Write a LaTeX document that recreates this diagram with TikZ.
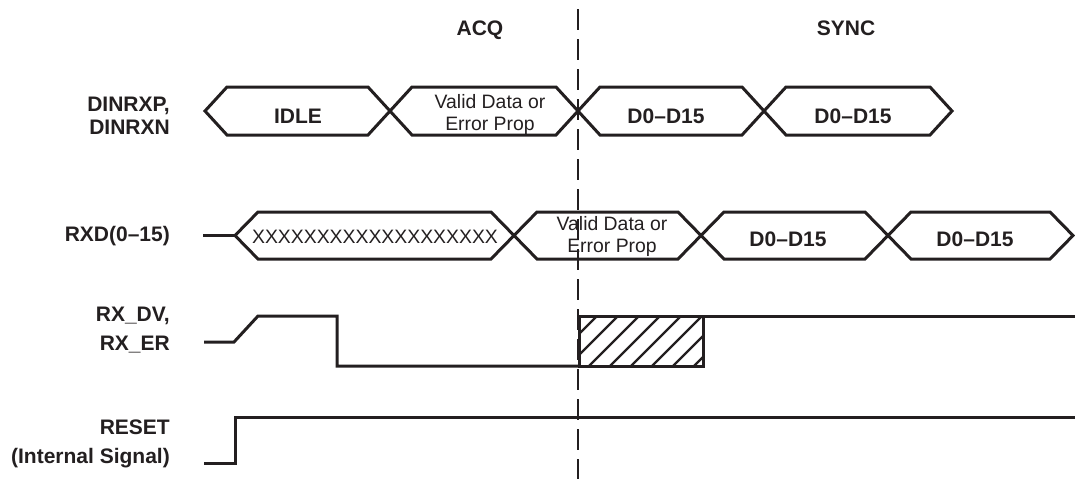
\documentclass[tikz,border=0pt]{standalone}
\usepackage{fontspec}
\setmainfont{Liberation Sans}
\definecolor{ink}{RGB}{35,31,32}
\newcommand\hexbus[5]{% a, b, mid, half-height, half-width
  \draw[sig] (#1,#3) -- ({#1+#5},{#3-#4}) -- ({#2-#5},{#3-#4}) -- (#2,#3)
    -- ({#2-#5},{#3+#4}) -- ({#1+#5},{#3+#4}) -- cycle;}
\begin{document}
\begin{tikzpicture}[x=1pt,y=-1pt,
  sig/.style={line width=3pt,draw=ink,line join=miter},
  hatchline/.style={line width=2.2pt,draw=ink},
  phase/.style={line width=1.1pt,draw=ink,dash pattern=on 21pt off 9pt},
  lbl/.style={font=\fontsize{21}{24}\selectfont\bfseries,text=ink,inner sep=0pt,anchor=base east},
  btxt/.style={font=\fontsize{21}{24}\selectfont\bfseries,text=ink,inner sep=0pt,anchor=base},
  rtxt/.style={font=\fontsize{19.4}{22}\selectfont,text=ink,inner sep=0pt,anchor=base}]
\useasboundingbox (0,0) rectangle (1075,479);

% phase labels and divider
\node[btxt] (acq) at (480,35.5) {ACQ};
\node[btxt] (sync) at (846,35.5) {SYNC};
\coordinate (divtop) at (578,9);
\coordinate (divbot) at (578,479);
\draw[phase] (divtop) -- (divbot);

% signal names
\node[lbl] (l1a) at (170,111.5) {DINRXP,};
\node[lbl] (l1b) at (170,134.5) {DINRXN};
\node[lbl] (l2) at (170,241.5) {RXD(0–15)};
\node[lbl] (l3a) at (170,321.5) {RX\_DV,};
\node[lbl] (l3b) at (170,350.5) {RX\_ER};
\node[lbl] (l4a) at (170,434.5) {RESET};
\node[lbl] (l4b) at (170,463.5) {(Internal Signal)};

% DINRXP / DINRXN bus
\hexbus{205}{390}{111}{24}{22}
\hexbus{390}{578}{111}{24}{22}
\hexbus{578}{764}{111}{24}{22}
\hexbus{764}{952}{111}{24}{22}
\node[btxt] (idle) at (298,123.5) {IDLE};
\node[rtxt] (v1a) at (490,108) {Valid Data or};
\node[rtxt] (v1b) at (490,130) {Error Prop};
\node[btxt] (d1a) at (666,123.5) {D0–D15};
\node[btxt] (d1b) at (853,123.5) {D0–D15};

% RXD(0-15) bus
\draw[sig] (203,235.5) -- (235,235.5);
\hexbus{235}{514}{235.5}{23.5}{23}
\hexbus{514}{701}{235.5}{23.5}{23}
\hexbus{701}{888}{235.5}{23.5}{23}
\hexbus{888}{1073}{235.5}{23.5}{23}
\node[rtxt] (xx) at (375,243) {XXXXXXXXXXXXXXXXXXX};
\node[rtxt] (v2a) at (612,230) {Valid Data or};
\node[rtxt] (v2b) at (612,252) {Error Prop};
\node[btxt] (d2a) at (788,246) {D0–D15};
\node[btxt] (d2b) at (975,246) {D0–D15};

% RX_DV / RX_ER
\draw[sig] (204,342) -- (234,342) -- (258,316) -- (337,316) -- (337,366) -- (579,366);
\begin{scope}
  \clip (579,316) rectangle (703,366);
  \foreach \x in {547,568,...,700} \draw[hatchline] (\x,366) -- ({\x+50},316);
\end{scope}
\draw[sig] (579,316) rectangle (703,366);
\draw[sig] (703,316) -- (1075,316);

% RESET
\draw[sig] (204,463) -- (235,463) -- (235,417) -- (1075,417);
\end{tikzpicture}
\end{document}
